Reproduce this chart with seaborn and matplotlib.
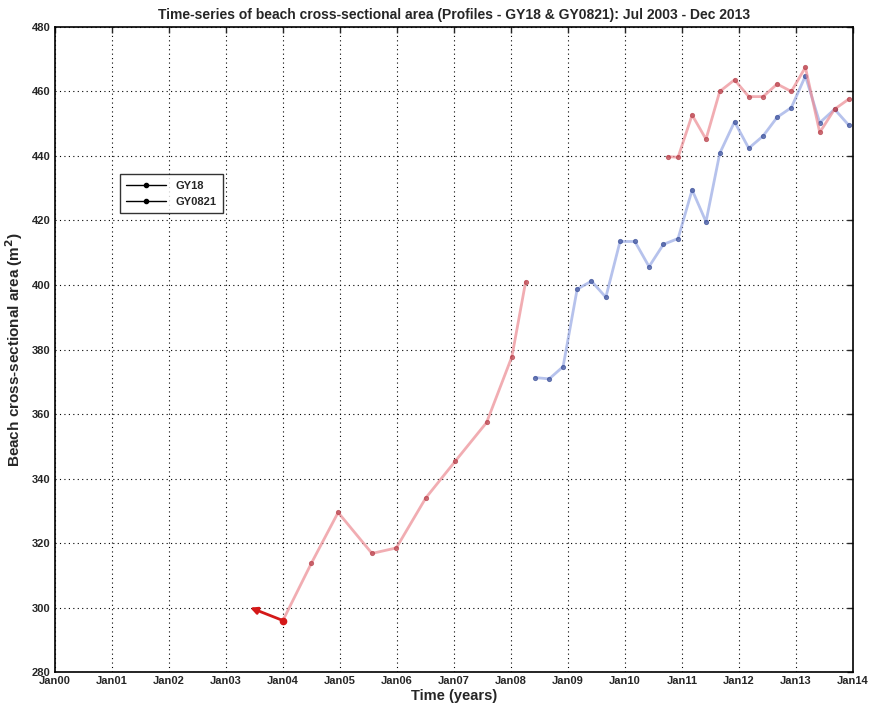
import pandas as pd
import numpy as np
import matplotlib.pyplot as plt
import matplotlib.dates as mdates
from matplotlib.lines import Line2D
import seaborn as sns

# =============================================================================
# DATOS
# =============================================================================
# GY18 - primer tramo (Jul 2003 - Abr 2008)
fechas_gy18_a = ['2003-06-05', '2004-01-01', '2004-07-01', '2004-12-20',
                 '2005-07-25', '2005-12-28', '2006-07-05', '2007-01-10',
                 '2007-07-30', '2008-01-08', '2008-04-05']
area_gy18_a = [300.0, 296.0, 313.7, 329.5, 316.8, 318.5, 334.0, 345.4,
               357.4, 377.8, 401.0]

# GY18 - segundo tramo (Oct 2010 - Dic 2013)
fechas_gy18_b = ['2010-10-05', '2010-12-08', '2011-03-08', '2011-06-05',
                 '2011-09-01', '2011-12-05', '2012-03-05', '2012-06-05',
                 '2012-09-03', '2012-12-03', '2013-03-03', '2013-06-03',
                 '2013-09-06', '2013-12-05']
area_gy18_b = [439.8, 439.6, 452.7, 445.2, 460.0, 463.6, 458.4, 458.4,
               462.3, 460.0, 467.5, 447.3, 454.5, 457.6]

# GY0821 (Jun 2008 - Dic 2013)
fechas_gy0821 = ['2008-06-07', '2008-09-03', '2008-12-01', '2009-03-01',
                 '2009-06-01', '2009-09-01', '2009-12-01', '2010-03-06',
                 '2010-06-05', '2010-09-05', '2010-12-08', '2011-03-08',
                 '2011-06-05', '2011-09-01', '2011-12-05', '2012-03-05',
                 '2012-06-05', '2012-09-03', '2012-12-03', '2013-03-03',
                 '2013-06-03', '2013-09-06', '2013-12-05']
area_gy0821 = [371.3, 370.9, 374.7, 398.7, 401.2, 396.2, 413.5, 413.5,
               405.7, 412.6, 414.4, 429.5, 419.6, 440.8, 450.6, 442.4,
               446.2, 452.0, 455.0, 464.8, 450.3, 454.5, 449.6]

anios_ticks = list(range(2000, 2015))
etiquetas_leyenda = ['GY18', 'GY0821']

df_a = pd.DataFrame({'fecha': pd.to_datetime(fechas_gy18_a), 'area': area_gy18_a})
df_b = pd.DataFrame({'fecha': pd.to_datetime(fechas_gy18_b), 'area': area_gy18_b})
df_c = pd.DataFrame({'fecha': pd.to_datetime(fechas_gy0821), 'area': area_gy0821})

# =============================================================================
# ESTILO
# =============================================================================
sns.set_style('white')
plt.rcParams['font.family'] = ['Liberation Sans', 'DejaVu Sans']
plt.rcParams['font.weight'] = 'bold'
plt.rcParams['mathtext.default'] = 'bf'

ROJO = '#ec8a92'
ROJO_MK = '#b8404a'
AZUL = '#97a8e4'
AZUL_MK = '#3a4f9a'

fig = plt.figure(figsize=(8.72, 7.09), dpi=100)
ax = fig.add_axes([0.063, 0.052, 0.915, 0.910])

estilo_linea = dict(linewidth=2.0, alpha=0.7, marker='o', markersize=3)

# tramo GY18 (sin el primer punto, que va como flecha)
sns.lineplot(data=df_a.iloc[1:], x='fecha', y='area', color=ROJO,
             markerfacecolor=ROJO_MK, markeredgecolor=ROJO_MK, ax=ax, **estilo_linea)
sns.lineplot(data=df_c, x='fecha', y='area', color=AZUL,
             markerfacecolor=AZUL_MK, markeredgecolor=AZUL_MK, ax=ax, **estilo_linea)
sns.lineplot(data=df_b, x='fecha', y='area', color=ROJO,
             markerfacecolor=ROJO_MK, markeredgecolor=ROJO_MK, ax=ax, **estilo_linea)

# flecha Jul03 -> Jan04
ax.annotate('', xy=(df_a['fecha'][0], df_a['area'][0]),
            xytext=(df_a['fecha'][1], df_a['area'][1]),
            arrowprops=dict(arrowstyle='-|>', color='#d41818', lw=2.0,
                            mutation_scale=10, shrinkA=0, shrinkB=0))
ax.plot(df_a['fecha'][1], df_a['area'][1], 'o', color='#d41818', markersize=4.5)

# =============================================================================
# EJES
# =============================================================================
ax.set_xlim(pd.Timestamp('2000-01-01'), pd.Timestamp('2014-01-01'))
ax.set_ylim(280, 480)
ax.set_xticks([pd.Timestamp(f'{a}-01-01') for a in anios_ticks])
ax.xaxis.set_major_formatter(mdates.DateFormatter('%b%y'))
ax.set_yticks(np.arange(280, 481, 20))

ax.tick_params(direction='in', top=True, right=True, length=4, width=1,
               labelsize=8, pad=3)
for lab in ax.get_xticklabels() + ax.get_yticklabels():
    lab.set_fontweight('bold')

ax.grid(True, color='black', linestyle=(0, (1, 3)), linewidth=0.8)
for sp in ax.spines.values():
    sp.set_color('black')
    sp.set_linewidth(1.2)

ax.set_xlabel('Time (years)', fontsize=10.5, fontweight='bold', labelpad=2)
ax.set_ylabel('Beach cross-sectional area (m$^2$)', fontsize=11,
              fontweight='bold', labelpad=5)
ax.set_title('Time-series of beach cross-sectional area (Profiles - GY18 & GY0821): Jul 2003 - Dec 2013',
             fontsize=10, fontweight='bold', pad=6)

handles = [Line2D([0], [0], color='black', lw=1, marker='o', markersize=3)
           for _ in etiquetas_leyenda]
leg = ax.legend(handles, etiquetas_leyenda, loc='upper left',
                bbox_to_anchor=(0.074, 0.78), fontsize=8, frameon=True,
                fancybox=False, edgecolor='black', handlelength=3.6,
                borderpad=0.6, labelspacing=0.5)
leg.get_frame().set_linewidth(1.0)
for t in leg.get_texts():
    t.set_fontweight('bold')

plt.savefig('out.png', dpi=100)
